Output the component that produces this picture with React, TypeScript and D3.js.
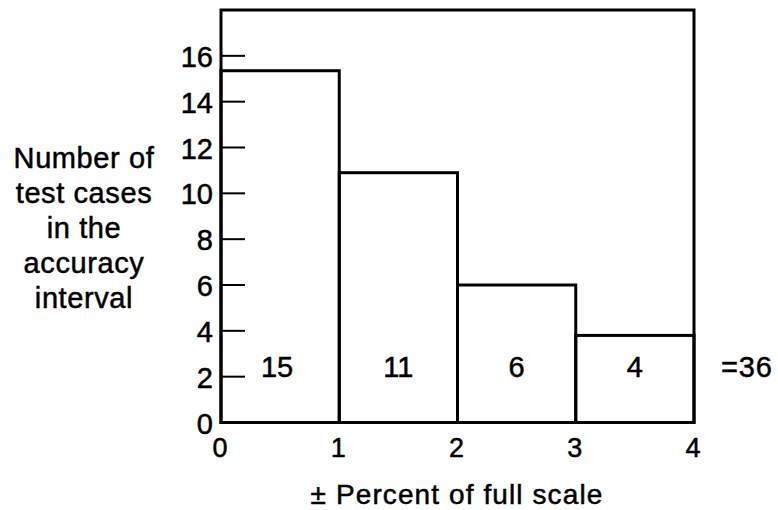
import React from "react";
import * as d3 from "d3";

const binStarts = [0, 1, 2, 3];
const binEnds = [1, 2, 3, 4];
const barHeights = [15.35, 10.9, 6.0, 3.8];
const counts = ["15", "11", "6", "4"];
const totalLabel = "=36";
const yTicks = [0, 2, 4, 6, 8, 10, 12, 14, 16];
const xTicks = [0, 1, 2, 3, 4];
const yLabelLines = ["Number of", "test cases", "in the", "accuracy", "interval"];
const xTitle = "± Percent of full scale";

const W = 778;
const H = 510;
const left = 221;
const right = 694;
const top = 10;
const bottom = 422.5;
const font = "'Liberation Sans', Arial, Helvetica, sans-serif";
const textStyle = { fill: "#000", stroke: "#000", strokeWidth: 0.5 };

export default function App() {
  const x = d3.scaleLinear().domain([0, 4]).range([left, right]);
  const y = d3.scaleLinear().domain([0, 18]).range([bottom, top]);
  return (
    <svg
      width={W}
      height={H}
      style={{ position: "absolute", left: 0, top: 0, background: "#fff" }}
      fontFamily={font}
    >
      <rect x={0} y={0} width={W} height={H} fill="#fff" />
      {barHeights.map((v, i) => (
        <rect
          key={"b" + i}
          x={x(binStarts[i])}
          y={y(v)}
          width={x(binEnds[i]) - x(binStarts[i])}
          height={y(0) - y(v)}
          fill="none"
          stroke="#000"
          strokeWidth={3}
        />
      ))}
      <rect
        x={left}
        y={top}
        width={right - left}
        height={bottom - top}
        fill="none"
        stroke="#000"
        strokeWidth={3}
      />
      {yTicks.map((t) => (
        <g key={"yt" + t}>
          {t > 0 && (
            <line x1={left} x2={left + 24} y1={y(t)} y2={y(t)} stroke="#000" strokeWidth={2} />
          )}
          <text x={213} y={y(t) + 11} textAnchor="end" fontSize={29} {...textStyle}>
            {t}
          </text>
        </g>
      ))}
      {xTicks.map((t) => (
        <text key={"xt" + t} x={x(t) - 1} y={457} textAnchor="middle" fontSize={27} {...textStyle}>
          {t}
        </text>
      ))}
      {counts.map((c, i) => (
        <text
          key={"c" + i}
          x={(x(binStarts[i]) + x(binEnds[i])) / 2 - (i === 0 ? 3 : 0)}
          y={377}
          textAnchor="middle"
          fontSize={29}
          {...textStyle}
        >
          {c}
        </text>
      ))}
      <text x={721} y={377} textAnchor="start" fontSize={29} letterSpacing={0.8} {...textStyle}>
        {totalLabel}
      </text>
      {yLabelLines.map((l, i) => (
        <text
          key={"yl" + i}
          x={84}
          y={168 + i * 35}
          textAnchor="middle"
          fontSize={29}
          letterSpacing={0.6}
          {...textStyle}
        >
          {l}
        </text>
      ))}
      <text x={457} y={504} textAnchor="middle" fontSize={28} letterSpacing={1.1} {...textStyle}>
        {xTitle}
      </text>
    </svg>
  );
}
